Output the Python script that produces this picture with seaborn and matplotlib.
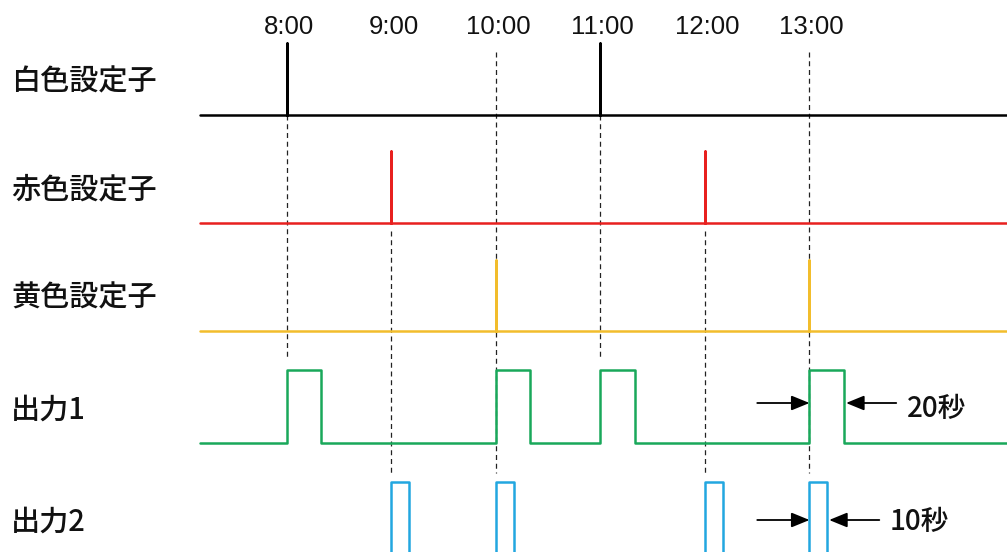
import numpy as np
import pandas as pd
import matplotlib
matplotlib.use("Agg")
import matplotlib.pyplot as plt
import seaborn as sns

sns.set_style("white")
plt.rcParams['font.family'] = ['Liberation Sans', 'Noto Sans CJK JP', 'DejaVu Sans']

# data
hours = [8, 9, 10, 11, 12, 13]
hour_labels = ["8:00", "9:00", "10:00", "11:00", "12:00", "13:00"]
row_labels = ["白色設定子", "赤色設定子", "黄色設定子", "出力1", "出力2"]
white_set = [8, 11]
red_set = [9, 12]
yellow_set = [10, 13]
out1_on = [8, 10, 11, 13]
out2_on = [9, 10, 12, 13]
out1_len = 0.33   # drawn width of the 20 s pulse
out2_len = 0.168  # drawn width of the 10 s pulse
out1_note = "20秒"
out2_note = "10秒"

# layout (pixel rows, y axis inverted)
baselines = [115, 223, 331, 443, 555]
heights = [72, 72, 71, 73, 73]
colors = ["#000000", "#e8201f", "#f2bd2c", "#19a85a", "#22a7e0"]
t_start, t_end = 7.167, 15.0


def spikes(times, base, h):
    xs, ys = [t_start], [base]
    for t in times:
        xs += [t, t, t]
        ys += [base, base - h, base]
    xs.append(t_end)
    ys.append(base)
    return xs, ys


def pulses(times, width, base, h):
    xs, ys = [t_start], [base]
    for t in times:
        xs += [t, t, t + width, t + width]
        ys += [base, base - h, base - h, base]
    xs.append(t_end)
    ys.append(base)
    return xs, ys


fig = plt.figure(figsize=(10.07, 5.52), dpi=100)
ax = fig.add_axes([0, 0, 1, 1])
ax.set_xlim(8 - 287 / 104.5, 8 + 720 / 104.5)
ax.set_ylim(552, 0)
ax.axis("off")

# dashed guides
for h in hours:
    if h in white_set:
        top = baselines[0]
    elif h in red_set:
        top = baselines[1] + 8
    else:
        top = 52
    if h in out2_on:
        bottom = baselines[4] - heights[4] - 9
    else:
        bottom = baselines[3] - heights[3] - 10
    ax.plot([h, h], [top, bottom], color="#222222", lw=0.9, ls=(0, (4, 3)), zorder=1)

signals = [
    spikes(white_set, baselines[0], heights[0]),
    spikes(red_set, baselines[1], heights[1]),
    spikes(yellow_set, baselines[2], heights[2]),
    pulses(out1_on, out1_len, baselines[3], heights[3]),
    pulses(out2_on, out2_len, baselines[4], heights[4]),
]
for i, (xs, ys) in enumerate(signals):
    df = pd.DataFrame({"t": xs, "y": ys})
    sns.lineplot(data=df, x="t", y="y", sort=False, estimator=None,
                 color=colors[i], lw=1.8, ax=ax, zorder=3)
ax.set_xlabel("")
ax.set_ylabel("")

# time labels
for h, lab in zip(hours, hour_labels):
    ax.text(h + 0.02, 27, lab, ha="center", va="center", fontsize=18.5,
            color="#111111")

# row labels
for lab, base in zip(row_labels, baselines):
    ax.text(5.254 + 11 / 104.5, base - 33, lab, ha="left", va="center",
            fontsize=21, family=["Noto Sans CJK JP"], weight="medium",
            color="#111111")

# width annotations
arrow = dict(arrowstyle="-|>,head_length=1.1,head_width=0.45", color="black",
             lw=1.3, shrinkA=0, shrinkB=0)
t = out1_on[-1]
y1 = baselines[3] - 40
ax.annotate("", xy=(t, y1), xytext=(t - 0.5, y1), arrowprops=arrow)
ax.annotate("", xy=(t + out1_len + 0.02, y1), xytext=(t + out1_len + 0.5, y1),
            arrowprops=arrow)
ax.text(t + out1_len + 0.6, y1 + 5, out1_note, ha="left", va="center",
        fontsize=20, family=["Noto Sans CJK JP"], weight="medium", color="#111111")

t = out2_on[-1]
y2 = baselines[4] - 35
ax.annotate("", xy=(t, y2), xytext=(t - 0.5, y2), arrowprops=arrow)
ax.annotate("", xy=(t + out2_len + 0.02, y2), xytext=(t + out2_len + 0.5, y2),
            arrowprops=arrow)
ax.text(t + out2_len + 0.6, y2 + 1, out2_note, ha="left", va="center",
        fontsize=20, family=["Noto Sans CJK JP"], weight="medium", color="#111111")

fig.savefig("out.png", dpi=100)
